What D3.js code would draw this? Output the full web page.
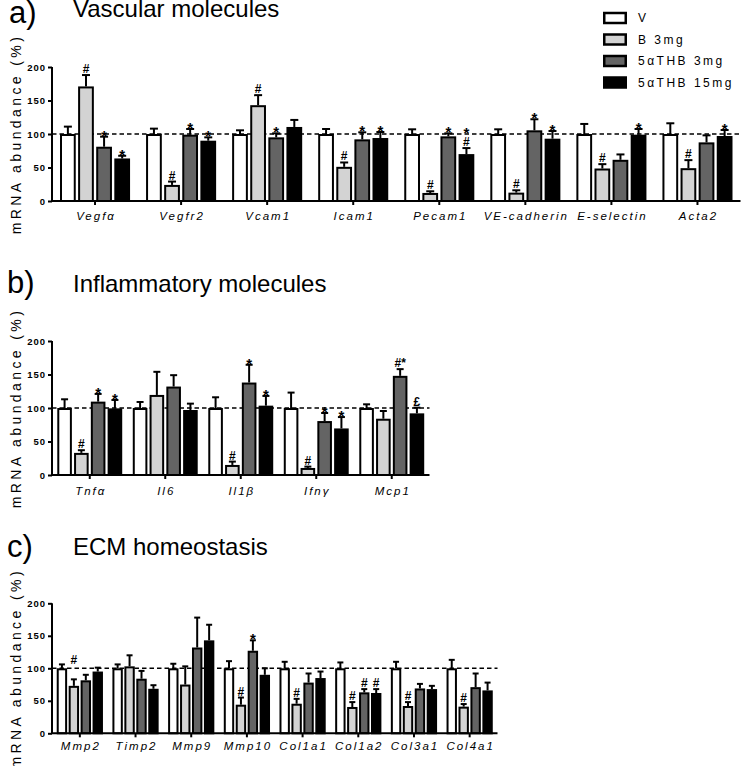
<!DOCTYPE html>
<html><head><meta charset="utf-8">
<script src="https://cdn.jsdelivr.net/npm/d3@7/dist/d3.min.js"></script>
<style>body{margin:0;background:#fff}svg{display:block}</style>
</head><body>
<svg id="chart" width="743" height="766"></svg>
<script>
// ---------- data ----------
const seriesNames = ["V", "B 3mg", "5\u03b1THB 3mg", "5\u03b1THB 15mg"];
const yTickValues = [0, 50, 100, 150, 200];
const referenceLevel = 100;

// panel a) Vascular molecules
const aCategories = ["Vegf\u03b1", "Vegfr2", "Vcam1", "Icam1", "Pecam1", "VE-cadherin", "E-selectin", "Acta2"];
const aV   = [100, 100, 100, 100, 100, 100, 100, 100];
const aB   = [171, 24, 143, 51, 12, 12.5, 48.5, 49];
const aT3  = [81, 99, 95, 92, 96.5, 105.5, 61.5, 87.5];
const aT15 = [63.5, 90, 110.5, 94, 70, 93, 99, 97];
const aErrV   = [11, 8, 5.5, 7.5, 7, 7, 15, 16];
const aErrB   = [17, 5, 15, 6.5, 2.5, 3.5, 6.5, 12];
const aErrT3  = [15, 8.5, 6, 10.5, 4.5, 16.5, 8, 10.5];
const aErrT15 = [4, 5, 10.5, 9, 9, 11.5, 8.5, 9];
const aMarks = [
  {c:0,s:1,t:"#"},{c:0,s:2,t:"*"},{c:0,s:3,t:"*"},
  {c:1,s:1,t:"#"},{c:1,s:2,t:"*"},{c:1,s:3,t:"*"},
  {c:2,s:1,t:"#"},{c:2,s:2,t:"*"},
  {c:3,s:1,t:"#"},{c:3,s:2,t:"*"},{c:3,s:3,t:"*"},
  {c:4,s:1,t:"#"},{c:4,s:2,t:"*"},{c:4,s:3,t:"#"},{c:4,s:3,t:"*",row:1},
  {c:5,s:1,t:"#"},{c:5,s:2,t:"*"},{c:5,s:3,t:"*"},
  {c:6,s:1,t:"#"},{c:6,s:3,t:"*"},
  {c:7,s:1,t:"#"},{c:7,s:3,t:"*"}
];

// panel b) Inflammatory molecules
const bCategories = ["Tnf\u03b1", "Il6", "Il1\u03b2", "Ifn\u03b3", "Mcp1"];
const bV   = [100, 100, 100, 100, 100];
const bB   = [33, 119.5, 15, 10.5, 84];
const bT3  = [109.5, 132, 138, 80.5, 148];
const bT15 = [99.5, 97, 103.5, 69.5, 92];
const bErrV   = [13, 9, 16, 23, 5.5];
const bErrB   = [4, 34.5, 5, 2, 11.5];
const bErrT3  = [11.5, 17, 26.5, 12, 10];
const bErrT15 = [12.5, 9.5, 14.5, 17, 8.5];
const bMarks = [
  {c:0,s:1,t:"#"},{c:0,s:2,t:"*"},{c:0,s:3,t:"*"},
  {c:2,s:1,t:"#"},{c:2,s:2,t:"*"},{c:2,s:3,t:"*"},
  {c:3,s:1,t:"#"},{c:3,s:2,t:"*"},{c:3,s:3,t:"*"},
  {c:4,s:2,t:"#*"},{c:4,s:3,t:"\u00a3"}
];

// panel c) ECM homeostasis
const cCategories = ["Mmp2", "Timp2", "Mmp9", "Mmp10", "Col1a1", "Col1a2", "Col3a1", "Col4a1"];
const cV   = [100, 100, 100, 100, 100, 100, 100, 100];
const cB   = [73, 103, 75, 44, 45.5, 40.5, 42, 41];
const cT3  = [81.5, 84, 132, 127, 78, 63, 69, 71];
const cT15 = [95, 68.5, 143, 90, 85, 62, 68, 66];
const cErrV   = [6, 6, 7, 11, 10, 9, 10, 13];
const cErrB   = [10, 17, 28, 11, 7.5, 7.5, 6, 4];
const cErrT3  = [8.5, 12, 46, 16, 14, 5, 7, 21];
const cErrT15 = [6, 5.5, 24, 10, 10, 6, 5, 12];
const cMarks = [
  {c:0,s:1,t:"#",at:103},
  {c:3,s:1,t:"#"},{c:3,s:2,t:"*"},
  {c:4,s:1,t:"#"},
  {c:5,s:1,t:"#"},{c:5,s:2,t:"#"},{c:5,s:3,t:"#"},
  {c:6,s:1,t:"#"},
  {c:7,s:1,t:"#"}
];

// ---------- style ----------
const FONT = "'Liberation Sans', Arial, Helvetica, sans-serif";
const fills = ["#ffffff", "#d3d3d3", "#646464", "#000000"];

const svg = d3.select("#chart");

function drawPanel(p) {
  const g = svg.append("g");
  const y = d3.scaleLinear().domain([0, 200]).range([p.yBottom, p.yTop]);
  const x0 = d3.scaleBand().domain(p.categories).range([p.xStart, p.xEnd])
    .paddingInner(p.pad).paddingOuter(p.pad / 2);
  const x1 = d3.scaleBand().domain(d3.range(seriesNames.length))
    .range([0, x0.bandwidth()]).paddingInner(0.13).paddingOuter(0);

  // reference dashed line
  g.append("line")
    .attr("x1", p.xStart).attr("x2", p.xEnd)
    .attr("y1", y(referenceLevel)).attr("y2", y(referenceLevel))
    .attr("stroke", "#000").attr("stroke-width", 1.6)
    .attr("stroke-dasharray", "4.5,3");

  const rows = [];
  p.categories.forEach((cat, ci) => {
    p.means.forEach((arr, si) => {
      rows.push({cat, ci, si, v: arr[ci], e: p.errs[si][ci]});
    });
  });

  const sw = p.stroke;
  // bars
  g.selectAll("rect.bar").data(rows).enter().append("rect")
    .attr("class", "bar")
    .attr("x", d => x0(d.cat) + x1(d.si) + sw / 2)
    .attr("width", x1.bandwidth() - sw)
    .attr("y", d => y(d.v) + sw / 2)
    .attr("height", d => y(0) - y(d.v) - sw / 2)
    .attr("fill", d => fills[d.si])
    .attr("stroke", "#000").attr("stroke-width", sw);

  // error bars (upper only)
  const eg = g.selectAll("g.err").data(rows).enter().append("g").attr("class", "err");
  eg.append("line")
    .attr("x1", d => x0(d.cat) + x1(d.si) + x1.bandwidth() / 2)
    .attr("x2", d => x0(d.cat) + x1(d.si) + x1.bandwidth() / 2)
    .attr("y1", d => y(d.v))
    .attr("y2", d => y(d.v + d.e))
    .attr("stroke", "#000").attr("stroke-width", 2);
  eg.append("line")
    .attr("x1", d => x0(d.cat) + x1(d.si) + x1.bandwidth() / 2 - p.cap / 2)
    .attr("x2", d => x0(d.cat) + x1(d.si) + x1.bandwidth() / 2 + p.cap / 2)
    .attr("y1", d => y(d.v + d.e))
    .attr("y2", d => y(d.v + d.e))
    .attr("stroke", "#000").attr("stroke-width", 2);

  // significance marks
  g.selectAll("text.mark").data(p.marks).enter().append("text")
    .attr("class", "mark")
    .attr("x", d => x0(p.categories[d.c]) + x1(d.s) + x1.bandwidth() / 2)
    .attr("y", d => {
      const top = d.at !== undefined ? d.at : p.means[d.s][d.c] + p.errs[d.s][d.c];
      let base = y(top) - 2;
      if (d.t === "*") base = y(top) + 4;
      if (d.row) base -= 14;
      return base;
    })
    .attr("text-anchor", "middle")
    .attr("font-family", FONT).attr("font-weight", "bold")
    .attr("font-size", d => d.t === "*" ? 15 : 12)
    .text(d => d.t);

  // y axis
  const yAxis = d3.axisLeft(y).tickValues(yTickValues).tickSize(4).tickPadding(2);
  const ya = g.append("g").attr("transform", `translate(${p.xStart},0)`).call(yAxis);
  ya.select(".domain").attr("stroke-width", 2).attr("d", `M0,${y(0)}V${y(200)}`);
  ya.selectAll(".tick line").attr("stroke-width", 2);
  ya.selectAll(".tick text")
    .attr("font-family", FONT).attr("font-weight", "bold")
    .attr("font-size", 9.5).attr("letter-spacing", "1px").attr("fill", "#000");

  // x axis
  const xAxis = d3.axisBottom(x0).tickSize(4).tickFormat("");
  const xa = g.append("g").attr("transform", `translate(0,${y(0)})`).call(xAxis);
  xa.select(".domain").attr("stroke-width", 2).attr("d", `M${p.xStart},0H${p.xEnd}`);
  xa.selectAll(".tick line").attr("stroke-width", 2);

  // category labels
  g.selectAll("text.cat").data(p.categories).enter().append("text")
    .attr("class", "cat")
    .attr("x", d => x0(d) + x0.bandwidth() / 2 + 1)
    .attr("y", p.labelY)
    .attr("text-anchor", "middle")
    .attr("font-family", FONT).attr("font-style", "italic")
    .attr("font-size", 11.5).attr("letter-spacing", "2px")
    .text(d => d);

  // y label
  g.append("text")
    .attr("transform", `translate(21,${y(100)}) rotate(-90)`)
    .attr("text-anchor", "middle")
    .attr("font-family", FONT).attr("font-size", 14)
    .attr("letter-spacing", "3.4px")
    .text("mRNA abundance (%)");

  // panel letter and title
  g.append("text").attr("x", p.letterX).attr("y", p.letterY)
    .attr("font-family", FONT).attr("font-size", 31).text(p.letter);
  g.append("text").attr("x", 73).attr("y", p.titleY)
    .attr("font-family", FONT).attr("font-size", 24).text(p.title);
}

drawPanel({
  categories: aCategories, means: [aV, aB, aT3, aT15], errs: [aErrV, aErrB, aErrT3, aErrT15],
  marks: aMarks, xStart: 52, xEnd: 740.5, yBottom: 201, yTop: 67, pad: 0.186,
  stroke: 2, cap: 8, labelY: 220, letter: "a)", letterX: 9, letterY: 23,
  title: "Vascular molecules", titleY: 17.3
});
drawPanel({
  categories: bCategories, means: [bV, bB, bT3, bT15], errs: [bErrV, bErrB, bErrT3, bErrT15],
  marks: bMarks, xStart: 52, xEnd: 429.5, yBottom: 475, yTop: 341, pad: 0.14,
  stroke: 2, cap: 7, labelY: 495, letter: "b)", letterX: 7, letterY: 293,
  title: "Inflammatory molecules", titleY: 292
});
drawPanel({
  categories: cCategories, means: [cV, cB, cT3, cT15], errs: [cErrV, cErrB, cErrT3, cErrT15],
  marks: cMarks, xStart: 52, xEnd: 497.5, yBottom: 733.3, yTop: 603.3, pad: 0.17,
  stroke: 2, cap: 6, labelY: 750, letter: "c)", letterX: 7, letterY: 557,
  title: "ECM homeostasis", titleY: 555
});

// legend
const lg = svg.append("g").attr("class", "legend");
const li = lg.selectAll("g").data(seriesNames).enter().append("g")
  .attr("transform", (d, i) => `translate(603,${18 + i * 21.5})`);
li.append("rect").attr("x", 1.25).attr("y", -5).attr("width", 21.5).attr("height", 10)
  .attr("fill", (d, i) => fills[i]).attr("stroke", "#000").attr("stroke-width", 2.5);
li.append("text").attr("x", 35).attr("y", 0).attr("dy", "0.36em")
  .attr("font-family", FONT).attr("font-size", 12).attr("letter-spacing", "2.5px")
  .text(d => d);
</script>
</body></html>
